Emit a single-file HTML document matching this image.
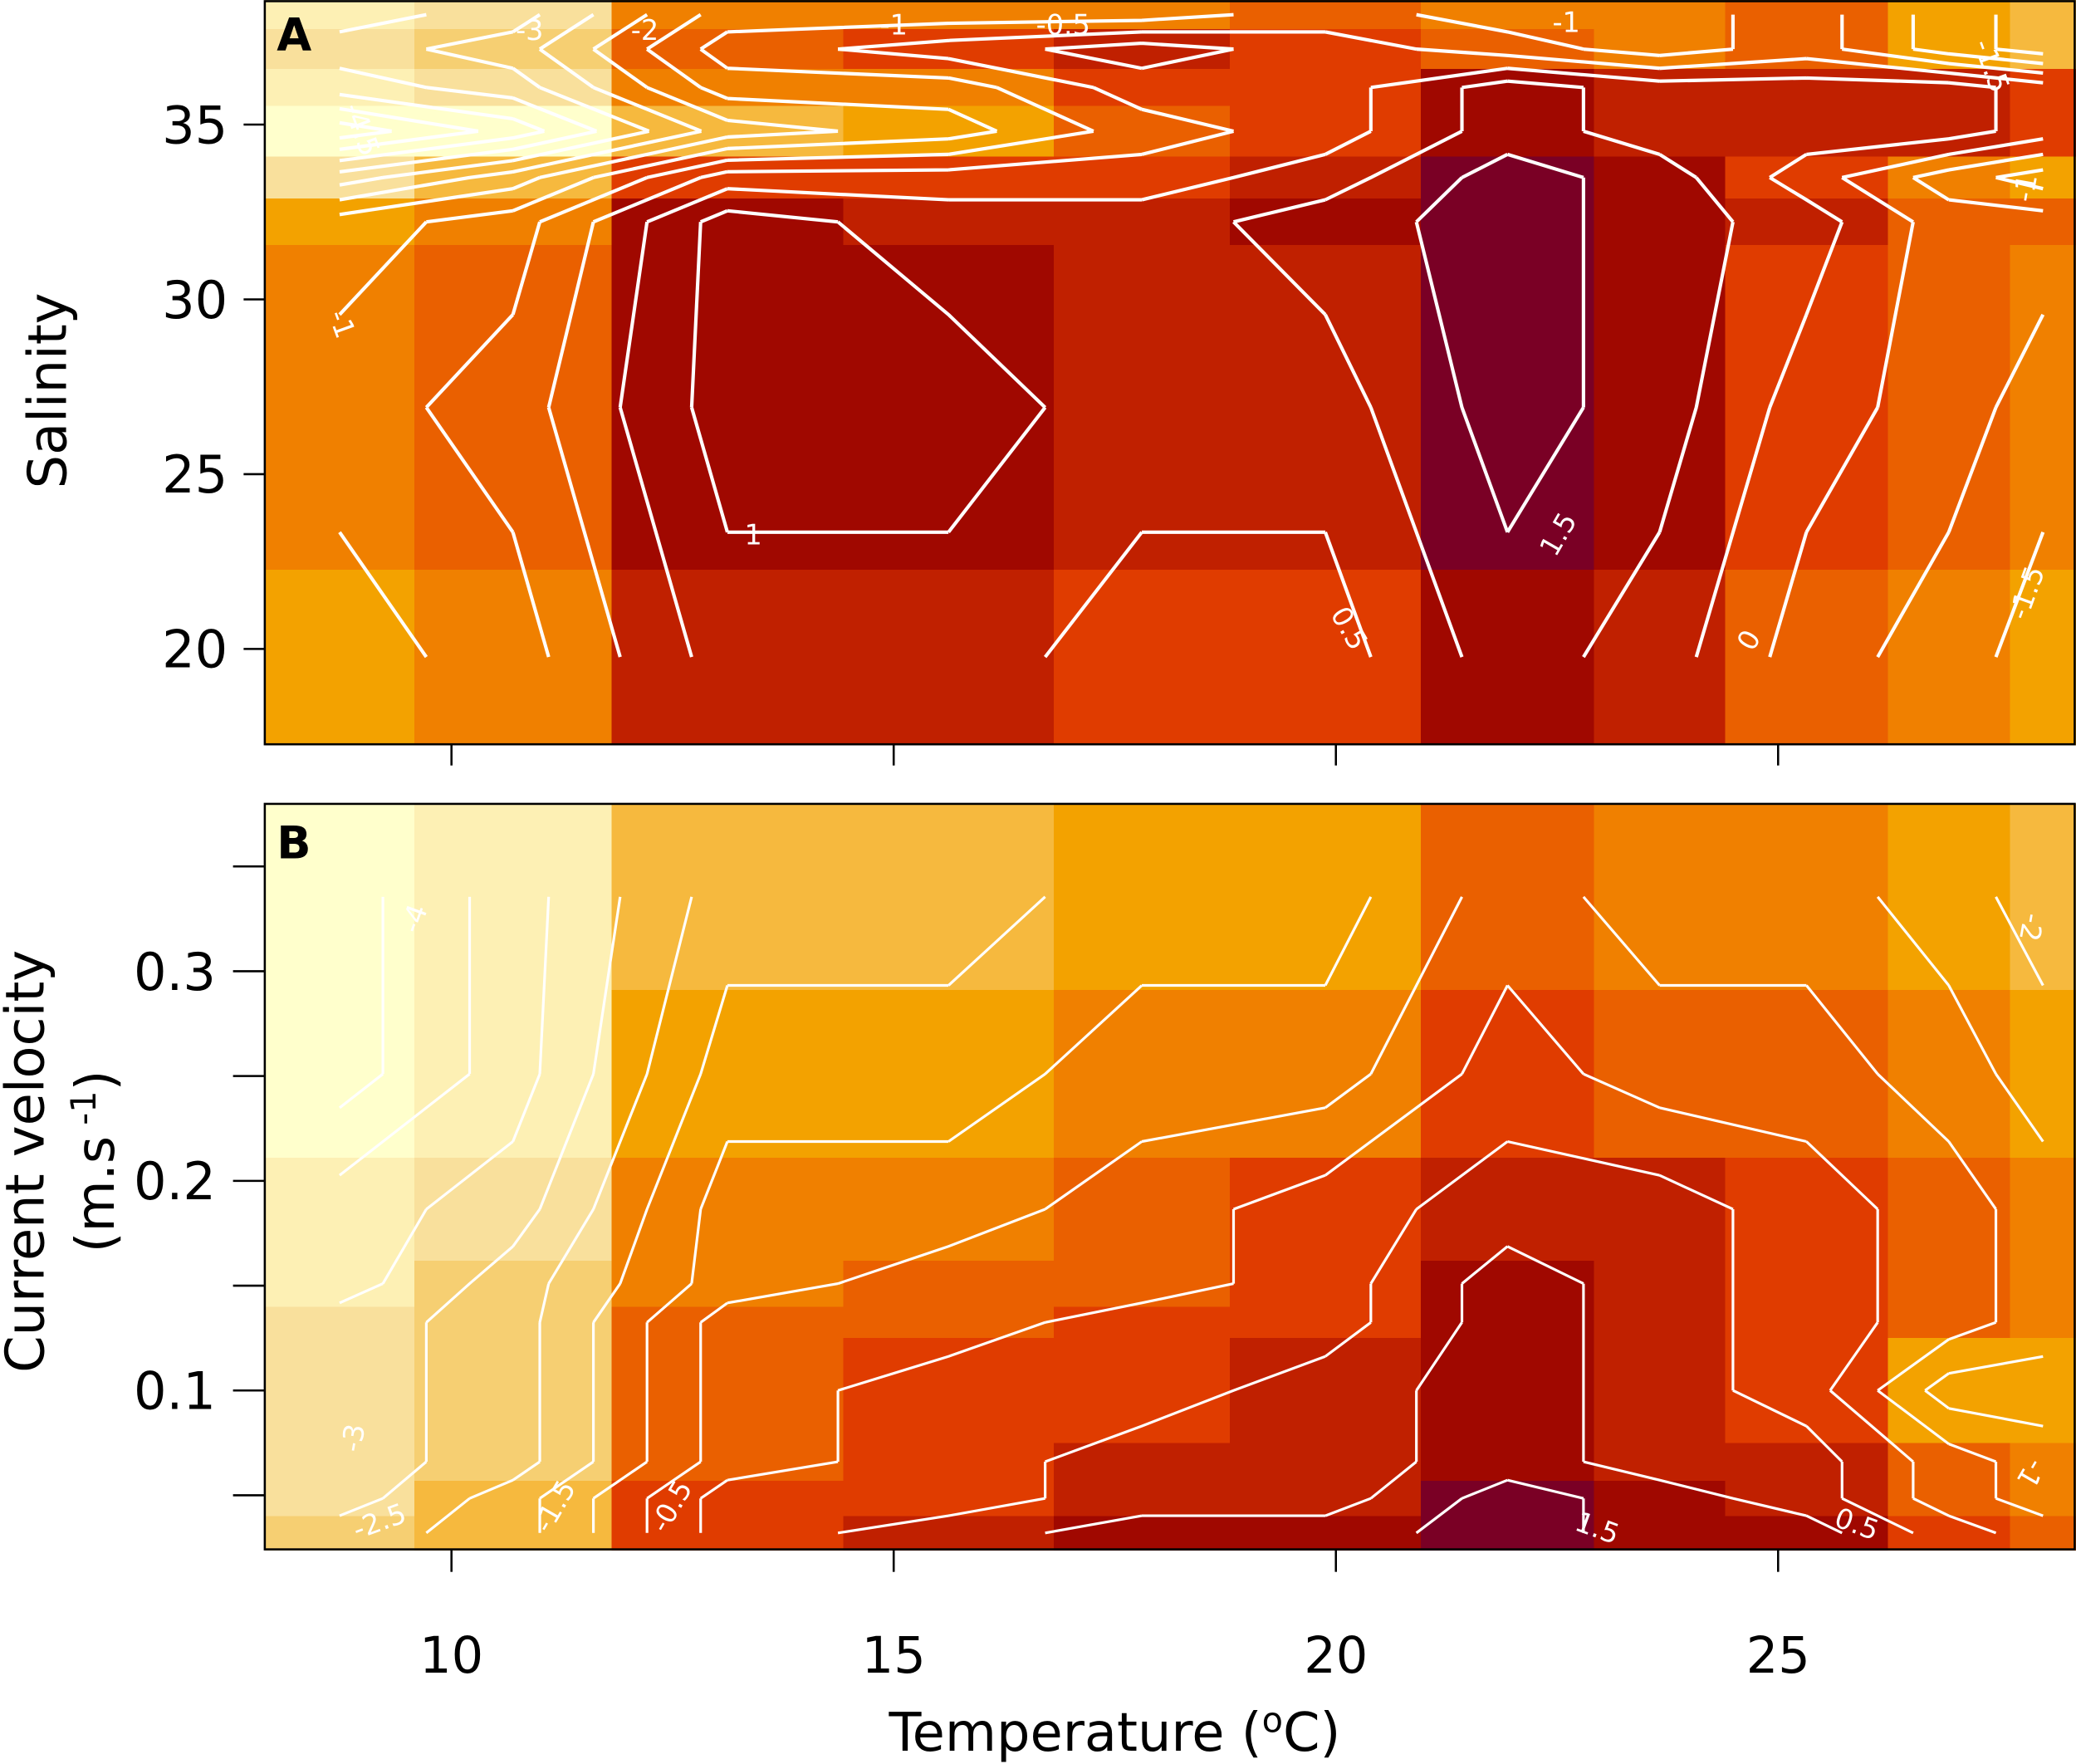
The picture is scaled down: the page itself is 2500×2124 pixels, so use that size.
<!DOCTYPE html>
<html><head><meta charset="utf-8"><title>Temperature response heatmaps</title>
<style>
html,body{margin:0;padding:0;background:#fff;}
svg{display:block;}
text{font-family:"DejaVu Sans","Liberation Sans",sans-serif;}
</style></head>
<body>
<svg id="chart" width="2500" height="2124" viewBox="0 0 1568 1332" xmlns="http://www.w3.org/2000/svg">
<g id="panelA"></g>
<g id="panelB"></g>
<g id="axes"></g>
</svg>
<script>
// ---- data ----
const tempBounds = [7.89, 9.58, 11.81, 14.43, 16.81, 18.80, 20.96, 22.92, 24.40, 26.24, 27.62, 28.37];
const salBounds = [38.56, 37.73, 36.59, 35.53, 34.09, 32.88, 31.55, 22.27, 17.27]; // top to bottom
const velBounds = [0.380, 0.291, 0.211, 0.162, 0.140, 0.125, 0.075, 0.057, 0.040, 0.024]; // top to bottom
const zA = [
 [-3.25,-2.75,-0.75,-0.75,-0.75,-0.25,-0.75,-0.75,-0.25,-1.25,-1.75],
 [-2.75,-2.25,-0.25, 0.25, 0.75, 0.25,-0.25,-0.75,-0.25,-1.25,-1.75],
 [-3.25,-2.75,-0.75,-0.75, 0.25, 0.25, 1.25, 0.75, 0.75, 0.75, 0.25],
 [-4.8 ,-3.8 ,-1.75,-1.25,-0.25, 0.25, 1.25, 0.75, 0.75, 0.75, 0.25],
 [-2.75,-1.75, 0.25, 0.25, 0.25, 0.75, 1.75, 1.25, 0.25,-0.75,-1.25],
 [-1.25,-0.75, 1.25, 0.75, 0.75, 1.25, 1.75, 1.25, 0.75,-0.25,-0.25],
 [-0.75,-0.25, 1.25, 1.25, 0.75, 0.75, 1.75, 1.25, 0.25,-0.25,-0.75],
 [-1.25,-0.75, 0.75, 0.75, 0.25, 0.25, 1.25, 0.75,-0.25,-0.75,-1.25]
];
const zB = [
 [-4.25,-3.25,-1.75,-1.75,-1.25,-1.25,-0.25,-0.75,-0.75,-1.25,-1.75],
 [-4.25,-3.25,-1.25,-1.25,-0.75,-0.75, 0.25,-0.25,-0.25,-0.75,-1.25],
 [-3.25,-2.75,-0.75,-0.75,-0.25, 0.25, 0.75, 0.75, 0.25,-0.25,-0.75],
 [-3.25,-2.25,-0.75,-0.25,-0.25, 0.25, 1.25, 0.75, 0.25,-0.25,-0.75],
 [-2.75,-2.25,-0.25,-0.25, 0.25, 0.25, 1.25, 0.75, 0.25,-0.25,-0.75],
 [-2.75,-2.25,-0.25, 0.25, 0.25, 0.75, 1.25, 0.75, 0.25,-1.25,-1.25],
 [-2.75,-2.25,-0.25, 0.25, 0.75, 0.75, 1.25, 0.75, 0.75,-0.25,-0.75],
 [-2.75,-1.75, 0.25, 0.25, 0.75, 0.75, 1.75, 1.25, 0.75,-0.25,-0.75],
 [-2.25,-1.75, 0.25, 0.75, 1.25, 1.25, 1.75, 1.25, 1.25, 0.25,-0.25]
];
const levels = [-4.5,-4,-3.5,-3,-2.5,-2,-1.5,-1,-0.5,0,0.5,1,1.5];
const palette = ["#ffffcc","#fdf0b4","#f9e09c","#f6cf72","#f6b93e","#f3a200","#f08000","#ea6000","#e03c00","#c02000","#a00800","#7a0025"];
const xTicks = [10,15,20,25];
const salTicks = [20,25,30,35];
const velTicks = [0.05,0.1,0.15,0.2,0.25,0.3,0.35];
const velTickLabels = ["","0.1","","0.2","","0.3",""];
const labelsA = [["-3",400,24,0],["-2",487,24,0],["-1",675,20,0],["-0.5",803,20,0],["-1",1183,18,0],["-1.5",1503,50,70],["-4.5",272,98,70],["-1",257,245,70],["1",569,405,0],["1.5",1178,404,-60],["0.5",1018,475,60],["0",1322,484,-60],["-1.5",1532,448,-70],["-1",1531,142,-80]];
const labelsB = [["-4",314,694,-70],["-3",268,1086,-80],["-2.5",287,1150,-20],["-1.5",420,1138,-60],["-0.5",508,1138,-60],["1.5",1206,1155,20],["0.5",1402,1152,20],["-2",1533,700,100],["-1",1533,1112,120]];

// ---- scales ----
const X0=200, X1=1568;
const xs = t => 341 + (t-10)*66.8;
const ysA = s => 94 - (s-35)*26.4;
const ysB = v => 1050 - (v-0.1)*1583;
const NS="http://www.w3.org/2000/svg";
function mk(tag, attrs, parent){ const e=document.createElementNS(NS,tag); for(const k in attrs) e.setAttribute(k,attrs[k]); parent.appendChild(e); return e; }
function colorOf(z){ let i=Math.floor((z+4)/0.5); i=Math.max(0,Math.min(palette.length-1,i)); return palette[i]; }

function drawPanel(g, rowB, z, ys, top, bottom, labels, lw){
  const cells = mk('g',{},g);
  
  
  for(let i=0;i<z.length;i++){
    for(let j=0;j<z[i].length;j++){
      const xa=xs(tempBounds[j]), xb=xs(tempBounds[j+1]);
      const ya=ys(rowB[i]), yb=ys(rowB[i+1]);
      const r=mk('rect',{x:xa,y:ya,width:xb-xa+0.6,height:yb-ya+0.6,fill:colorOf(z[i][j]),'shape-rendering':'crispEdges'},cells);
      
      
    }
  }
  const cx=[], cy=[];
  for(let j=0;j<tempBounds.length-1;j++) cx.push(xs((tempBounds[j]+tempBounds[j+1])/2));
  for(let i=0;i<rowB.length-1;i++) cy.push(ys((rowB[i]+rowB[i+1])/2));
  const cg = mk('g',{stroke:'#fff','stroke-width':lw,fill:'none','stroke-linejoin':'round'},g);
  
  
  levels.forEach(L=>{
    let d='';
    for(let i=0;i<z.length-1;i++){
      for(let j=0;j<z[i].length-1;j++){
        const a=z[i][j], b=z[i][j+1], c=z[i+1][j+1], dd=z[i+1][j];
        const pts=[];
        const cross=(v1,v2,p1,p2)=>{ if((v1-L)*(v2-L)<0){ const t=(L-v1)/(v2-v1); pts.push([p1[0]+t*(p2[0]-p1[0]),p1[1]+t*(p2[1]-p1[1])]); } };
        const TL=[cx[j],cy[i]], TR=[cx[j+1],cy[i]], BR=[cx[j+1],cy[i+1]], BL=[cx[j],cy[i+1]];
        cross(a,b,TL,TR); cross(b,c,TR,BR); cross(dd,c,BL,BR); cross(a,dd,TL,BL);
        if(pts.length===2){ d+=`M${pts[0][0].toFixed(1)},${pts[0][1].toFixed(1)}L${pts[1][0].toFixed(1)},${pts[1][1].toFixed(1)}`; }
        else if(pts.length===4){ d+=`M${pts[0][0]},${pts[0][1]}L${pts[1][0]},${pts[1][1]}M${pts[2][0]},${pts[2][1]}L${pts[3][0]},${pts[3][1]}`; }
      }
    }
    if(d){ const p=mk('path',{d:d},cg);   }
  });
  labels.forEach(l=>{
    const t=mk('text',{x:l[1],y:l[2],fill:'#fff','font-size':21,'text-anchor':'middle','dominant-baseline':'middle',transform:`rotate(${l[3]} ${l[1]} ${l[2]})`},g);
    t.textContent=l[0];
    
    
  });
  const fr=mk('rect',{x:X0,y:top,width:X1-X0-1,height:bottom-top,fill:'none',stroke:'#000','stroke-width':1.6},g);
  
  
}

const gA=document.getElementById('panelA'), gB=document.getElementById('panelB'), ax=document.getElementById('axes');
drawPanel(gA, salBounds, zA, ysA, 0.8, 562, labelsA, 2.6);
drawPanel(gB, velBounds, zB, ysB, 607, 1170, labelsB, 2.0);

let t=mk('text',{x:209,y:38,'font-size':34,'font-weight':'bold',fill:'#000'},gA); t.textContent='A';
 
t=mk('text',{x:209,y:648,'font-size':34,'font-weight':'bold',fill:'#000'},gB); t.textContent='B';
 

xTicks.forEach(v=>{
  let l=mk('line',{x1:xs(v),x2:xs(v),y1:562,y2:578,stroke:'#000','stroke-width':1.6},ax);
   
  l=mk('line',{x1:xs(v),x2:xs(v),y1:1170,y2:1187,stroke:'#000','stroke-width':1.6},ax);
   
  const tx=mk('text',{x:xs(v),y:1263,'font-size':38,'text-anchor':'middle',fill:'#000'},ax); tx.textContent=String(v);
   
});
salTicks.forEach(v=>{
  const l=mk('line',{x1:184,x2:200,y1:ysA(v),y2:ysA(v),stroke:'#000','stroke-width':1.6},ax);
   
  const tx=mk('text',{x:172,y:ysA(v)+14,'font-size':39,'text-anchor':'end',fill:'#000'},ax); tx.textContent=String(v);
   
});
velTicks.forEach((v,i)=>{
  const l=mk('line',{x1:176,x2:200,y1:ysB(v),y2:ysB(v),stroke:'#000','stroke-width':1.6},ax);
   
  if(velTickLabels[i]){
    const tx=mk('text',{x:163,y:ysB(v)+14,'font-size':39,'text-anchor':'end',fill:'#000'},ax); tx.textContent=velTickLabels[i];
     
  }
});
</script>
<script>
const axg=document.getElementById('axes');
function txt(s,attrs,name){ const e=document.createElementNS("http://www.w3.org/2000/svg",'text'); for(const k in attrs) e.setAttribute(k,attrs[k]); e.innerHTML=s;
 
 
 axg.appendChild(e); return e; }
txt('Temperature (<tspan dy="-14" font-size="26">o</tspan><tspan dy="14">C)</tspan>',{x:842,y:1322,'font-size':40,'text-anchor':'middle',fill:'#000'},'x-axis-title');
txt('Salinity',{x:50,y:295,'font-size':40,'text-anchor':'middle',fill:'#000',transform:'rotate(-90 50 295)'},'y-axis-title-a');
txt('Current velocity',{x:33,y:877,'font-size':40,'text-anchor':'middle',fill:'#000',transform:'rotate(-90 33 877)'},'y-axis-title-b');
txt('(m.s<tspan dy="-14" font-size="26"> -1</tspan><tspan dy="14">)</tspan>',{x:86,y:877,'font-size':40,'text-anchor':'middle',fill:'#000',transform:'rotate(-90 86 877)'},'y-axis-units-b');
</script>
</body></html>
